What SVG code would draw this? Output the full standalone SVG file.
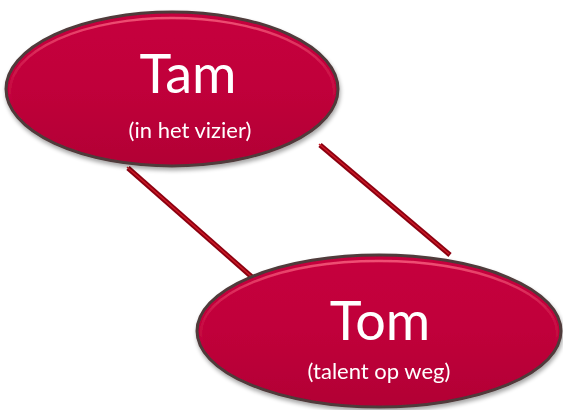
<svg xmlns="http://www.w3.org/2000/svg" width="563" height="410" viewBox="0 0 563 410">
<defs>
<style>
.node-shape{fill:url(#fillG);stroke:#4f3a3a;stroke-width:3}
.hl{fill:none;stroke:url(#hlG);stroke-width:2.5}
.title{font-family:Lato,"Open Sans","Liberation Sans",sans-serif;fill:#ffffff;text-anchor:middle;font-size:54px}
.sub{font-family:Lato,"Open Sans","Liberation Sans",sans-serif;fill:#ffffff;text-anchor:middle;font-size:22px}
.conn{stroke:#8c0010;stroke-width:5;stroke-linecap:butt}
.conn-hl{stroke:#cc1a26;stroke-width:1.5}
</style>
<linearGradient id="fillG" x1="0" y1="0" x2="0" y2="1">
<stop offset="0" stop-color="#c6023d"/>
<stop offset="0.5" stop-color="#c0003a"/>
<stop offset="1" stop-color="#b20035"/>
</linearGradient>
<linearGradient id="hlG" x1="0" y1="0" x2="0" y2="1">
<stop offset="0" stop-color="#f4587a" stop-opacity="0.9"/>
<stop offset="0.35" stop-color="#f4587a" stop-opacity="0.25"/>
<stop offset="0.6" stop-color="#f4587a" stop-opacity="0"/>
<stop offset="1" stop-color="#f4587a" stop-opacity="0"/>
</linearGradient>
<filter id="sh" x="-10%" y="-10%" width="120%" height="130%">
<feGaussianBlur in="SourceAlpha" stdDeviation="2"/>
<feOffset dx="1" dy="3"/>
<feComponentTransfer><feFuncA type="linear" slope="0.35"/></feComponentTransfer>
<feMerge><feMergeNode/><feMergeNode in="SourceGraphic"/></feMerge>
</filter>
</defs>
<g id="connectors">
<line class="conn" x1="128" y1="168" x2="253" y2="278"/>
<line class="conn-hl" x1="127" y1="167" x2="252" y2="277"/>
<line class="conn" x1="320" y1="145" x2="450" y2="255"/>
<line class="conn-hl" x1="319" y1="144" x2="449" y2="254"/>
</g>
<g id="tam" filter="url(#sh)">
<ellipse class="node-shape" cx="172" cy="89" rx="166" ry="77"/>
<ellipse class="hl" cx="172" cy="91" rx="162" ry="73"/>
<text class="title" x="188" y="93">Tam</text>
<text class="sub" x="190" y="138">(in het vizier)</text>
</g>
<g id="tom" filter="url(#sh)">
<ellipse class="node-shape" cx="379" cy="331" rx="182" ry="76"/>
<ellipse class="hl" cx="379" cy="333" rx="178" ry="72"/>
<text class="title" x="380" y="340">Tom</text>
<text class="sub" x="379" y="379">(talent op weg)</text>
</g>
</svg>
